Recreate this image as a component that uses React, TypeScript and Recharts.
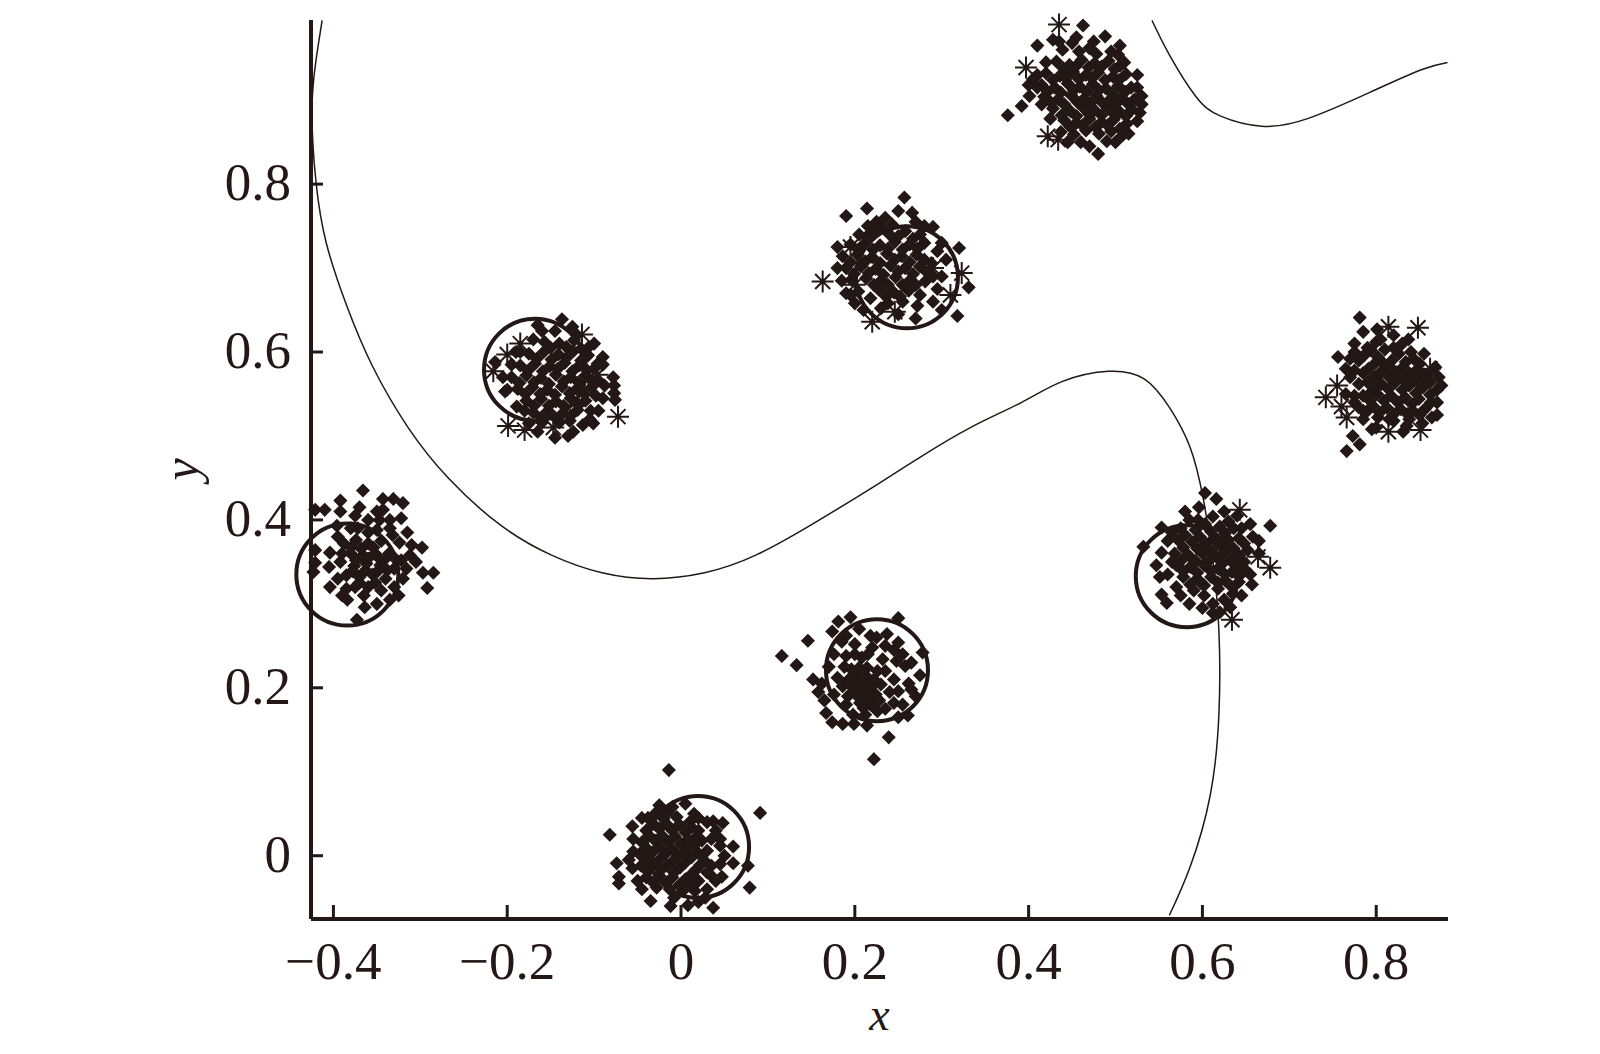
import React from "react";
import { ScatterChart, Scatter, XAxis, YAxis, ReferenceDot } from "recharts";

const INK = "#231815";
const FONT = "'Liberation Serif', 'Times New Roman', serif";

const xTicks = [-0.4, -0.2, 0, 0.2, 0.4, 0.6, 0.8];
const xTickLabels = ["\u22120.4", "\u22120.2", "0", "0.2", "0.4", "0.6", "0.8"];
const yTicks = [0, 0.2, 0.4, 0.6, 0.8];
const yTickLabels = ["0", "0.2", "0.4", "0.6", "0.8"];

type Pair = [number, number];

// decision boundary
const boundaryMain: Pair[] = [
  [-0.413, 0.995], [-0.42, 0.948], [-0.4247, 0.887], [-0.42, 0.802], [-0.408, 0.729], [-0.385, 0.656],
  [-0.355, 0.583], [-0.314, 0.51], [-0.267, 0.449], [-0.208, 0.394], [-0.149, 0.358], [-0.091, 0.337],
  [-0.032, 0.33], [0.027, 0.337], [0.086, 0.358], [0.156, 0.398], [0.227, 0.443], [0.274, 0.474],
  [0.333, 0.51], [0.392, 0.54], [0.439, 0.565], [0.492, 0.577], [0.533, 0.568], [0.562, 0.534],
  [0.586, 0.486], [0.601, 0.425], [0.612, 0.352], [0.619, 0.267], [0.619, 0.169], [0.609, 0.072],
  [0.586, -0.013], [0.562, -0.071],
];
const boundaryCorner: Pair[] = [
  [0.542, 0.995], [0.562, 0.954], [0.592, 0.905], [0.621, 0.881], [0.668, 0.869], [0.721, 0.878],
  [0.792, 0.909], [0.851, 0.936], [0.882, 0.945],
];

// ring centres
const ringX = [-0.168, -0.384, 0.26, 0.582, 0.2255, 0.0196];
const ringY = [0.579, 0.335, 0.689, 0.333, 0.221, 0.0104];

const starPoints: Pair[] = [
  [0.435, 0.99], [0.397, 0.939], [0.422, 0.857], [0.163, 0.684], [0.195, 0.725], [0.323, 0.694],
  [0.22, 0.636], [0.31, 0.668], [0.246, 0.648], [0.2, 0.68], [0.29, 0.7], [-0.0725, 0.523],
  [-0.2, 0.597], [-0.216, 0.577], [-0.199, 0.512], [-0.18, 0.507], [-0.096, 0.573], [-0.147, 0.51],
  [-0.114, 0.621], [-0.185, 0.61], [0.678, 0.343], [0.643, 0.412], [0.634, 0.281], [0.664, 0.356],
  [0.742, 0.546], [0.814, 0.63], [0.848, 0.629], [0.766, 0.522], [0.814, 0.505], [0.851, 0.507],
  [0.862, 0.58], [0.755, 0.56], [0.434, 0.853], [0.76, 0.535],
];

const clusterTop: Pair[] = [
  [0.4626, 0.989], [0.376, 0.882], [0.392, 0.893], [0.48, 0.836], [0.49, 0.851], [0.41, 0.965], [0.488, 0.976],
  [0.503, 0.954], [0.428, 0.972], [0.45, 0.968], [0.47, 0.962], [0.4, 0.918], [0.401, 0.905], [0.525, 0.93], [0.528, 0.885],
  [0.432, 0.946], [0.447, 0.942], [0.461, 0.948], [0.476, 0.944], [0.492, 0.947], [0.505, 0.941],
  [0.42, 0.932], [0.436, 0.929], [0.451, 0.934], [0.466, 0.93], [0.48, 0.933], [0.497, 0.928], [0.512, 0.931],
  [0.415, 0.918], [0.43, 0.915], [0.445, 0.92], [0.459, 0.916], [0.474, 0.919], [0.489, 0.914], [0.503, 0.917], [0.518, 0.915],
  [0.418, 0.904], [0.434, 0.901], [0.449, 0.906], [0.464, 0.902], [0.478, 0.905], [0.493, 0.9], [0.507, 0.903], [0.522, 0.901],
  [0.428, 0.89], [0.448, 0.887], [0.462, 0.892], [0.476, 0.888], [0.491, 0.891], [0.505, 0.886], [0.519, 0.889],
  [0.441, 0.876], [0.455, 0.873], [0.47, 0.878], [0.484, 0.874], [0.498, 0.877], [0.513, 0.872],
  [0.437, 0.862], [0.452, 0.859], [0.466, 0.864], [0.481, 0.86], [0.495, 0.863], [0.508, 0.858],
];
const coreTop: Pair[] = [
  [0.44, 0.938], [0.454, 0.94], [0.469, 0.939], [0.484, 0.94], [0.499, 0.937],
  [0.428, 0.924], [0.443, 0.926], [0.458, 0.925], [0.473, 0.926], [0.488, 0.924], [0.504, 0.924],
  [0.422, 0.91], [0.437, 0.909], [0.452, 0.912], [0.467, 0.91], [0.481, 0.912], [0.496, 0.908], [0.511, 0.91],
  [0.426, 0.897], [0.441, 0.895], [0.456, 0.898], [0.471, 0.896], [0.485, 0.897], [0.5, 0.895], [0.514, 0.896],
  [0.438, 0.882], [0.455, 0.881], [0.469, 0.884], [0.484, 0.882], [0.498, 0.884], [0.512, 0.881],
  [0.448, 0.868], [0.462, 0.87], [0.477, 0.868], [0.491, 0.87], [0.505, 0.866],
];
const edgeTop: Pair[] = [
  [0.439, 0.96], [0.458, 0.958], [0.478, 0.955], [0.495, 0.958], [0.51, 0.945], [0.42, 0.945], [0.41, 0.93], [0.405, 0.925],
  [0.525, 0.915], [0.53, 0.905], [0.53, 0.895], [0.525, 0.875], [0.515, 0.86], [0.5, 0.85], [0.46, 0.85], [0.445, 0.85],
  [0.47, 0.845], [0.41, 0.915], [0.415, 0.895], [0.425, 0.878], [0.435, 0.97], [0.455, 0.975], [0.475, 0.97], [0.505, 0.965],
];

const clusterMid: Pair[] = [
  [0.19, 0.762], [0.214, 0.771], [0.257, 0.784], [0.32, 0.724], [0.331, 0.677], [0.318, 0.643], [0.266, 0.766], [0.29, 0.749],
  [0.225, 0.755], [0.243, 0.752], [0.205, 0.74], [0.222, 0.742], [0.24, 0.74], [0.258, 0.744], [0.275, 0.74],
  [0.195, 0.728], [0.212, 0.73], [0.229, 0.727], [0.246, 0.731], [0.263, 0.728], [0.28, 0.73], [0.295, 0.72],
  [0.186, 0.714], [0.203, 0.716], [0.22, 0.713], [0.237, 0.717], [0.254, 0.714], [0.271, 0.716], [0.288, 0.706],
  [0.19, 0.7], [0.207, 0.702], [0.224, 0.699], [0.241, 0.703], [0.258, 0.7], [0.275, 0.702], [0.29, 0.69],
  [0.196, 0.686], [0.213, 0.688], [0.23, 0.685], [0.247, 0.689], [0.264, 0.686], [0.281, 0.684],
  [0.204, 0.672], [0.228, 0.674], [0.245, 0.671], [0.262, 0.673], [0.275, 0.668],
  [0.2, 0.658], [0.218, 0.664], [0.238, 0.658], [0.255, 0.66], [0.272, 0.655], [0.195, 0.668], [0.23, 0.652], [0.29, 0.66],
];
const coreMid: Pair[] = [
  [0.231, 0.748], [0.25, 0.738], [0.267, 0.735], [0.213, 0.737], [0.204, 0.722], [0.221, 0.722], [0.238, 0.723], [0.255, 0.722], [0.272, 0.723],
  [0.195, 0.707], [0.212, 0.708], [0.229, 0.706], [0.246, 0.71], [0.263, 0.707], [0.28, 0.71],
  [0.199, 0.693], [0.216, 0.694], [0.233, 0.692], [0.25, 0.696], [0.267, 0.693], [0.283, 0.695],
  [0.222, 0.68], [0.238, 0.68], [0.255, 0.68], [0.27, 0.68], [0.236, 0.666], [0.252, 0.666],
];
const edgeMid: Pair[] = [
  [0.215, 0.75], [0.235, 0.76], [0.25, 0.768], [0.27, 0.755], [0.28, 0.75], [0.3, 0.73], [0.305, 0.71], [0.3, 0.69], [0.295, 0.675],
  [0.18, 0.725], [0.18, 0.7], [0.185, 0.685], [0.19, 0.67], [0.21, 0.65], [0.25, 0.645], [0.27, 0.64], [0.3, 0.65],
];

const clusterLeft: Pair[] = [
  [-0.078, 0.57], [-0.077, 0.56], [-0.077, 0.551], [-0.076, 0.543], [-0.145, 0.498], [-0.124, 0.505], [-0.101, 0.515], [-0.113, 0.513],
  [-0.137, 0.639], [-0.09, 0.594], [-0.2025, 0.553], [-0.189, 0.535], [-0.214, 0.588], [-0.165, 0.632], [-0.145, 0.625], [-0.125, 0.63],
  [-0.157, 0.612], [-0.14, 0.61], [-0.123, 0.614], [-0.106, 0.606],
  [-0.175, 0.598], [-0.158, 0.6], [-0.141, 0.597], [-0.124, 0.601], [-0.107, 0.596], [-0.096, 0.586],
  [-0.185, 0.584], [-0.168, 0.586], [-0.151, 0.583], [-0.134, 0.587], [-0.117, 0.584], [-0.1, 0.58],
  [-0.195, 0.57], [-0.178, 0.572], [-0.161, 0.569], [-0.144, 0.573], [-0.127, 0.57], [-0.11, 0.572], [-0.095, 0.566],
  [-0.188, 0.556], [-0.171, 0.558], [-0.154, 0.555], [-0.137, 0.559], [-0.12, 0.556], [-0.103, 0.558],
  [-0.178, 0.542], [-0.161, 0.544], [-0.144, 0.541], [-0.127, 0.545], [-0.11, 0.542], [-0.098, 0.548],
  [-0.17, 0.528], [-0.153, 0.53], [-0.136, 0.527], [-0.119, 0.531], [-0.104, 0.53],
  [-0.16, 0.516], [-0.14, 0.516], [-0.128, 0.518],
];
const coreLeft: Pair[] = [
  [-0.15, 0.605], [-0.132, 0.606], [-0.115, 0.604], [-0.166, 0.592], [-0.149, 0.591], [-0.132, 0.593], [-0.115, 0.59],
  [-0.176, 0.578], [-0.159, 0.577], [-0.142, 0.58], [-0.125, 0.577], [-0.108, 0.578],
  [-0.186, 0.563], [-0.169, 0.564], [-0.152, 0.562], [-0.135, 0.565], [-0.118, 0.564], [-0.102, 0.565],
  [-0.179, 0.55], [-0.162, 0.55], [-0.145, 0.549], [-0.128, 0.551], [-0.111, 0.55],
  [-0.169, 0.536], [-0.152, 0.536], [-0.135, 0.536], [-0.118, 0.537], [-0.145, 0.522], [-0.161, 0.522], [-0.127, 0.524],
];
const edgeLeft: Pair[] = [
  [-0.19, 0.6], [-0.195, 0.585], [-0.205, 0.57], [-0.2, 0.555], [-0.185, 0.6], [-0.17, 0.615], [-0.16, 0.625], [-0.12, 0.62],
  [-0.1, 0.61], [-0.09, 0.585], [-0.088, 0.56], [-0.09, 0.545], [-0.095, 0.53], [-0.18, 0.53], [-0.175, 0.515], [-0.165, 0.505],
  [-0.13, 0.5], [-0.105, 0.52],
];

const clusterFarLeft: Pair[] = [
  [-0.366, 0.435], [-0.392, 0.423], [-0.343, 0.425], [-0.331, 0.425], [-0.32, 0.42], [-0.343, 0.412], [-0.421, 0.412], [-0.41, 0.412],
  [-0.292, 0.319], [-0.285, 0.337], [-0.297, 0.337], [-0.298, 0.367], [-0.404, 0.361], [-0.405, 0.344], [-0.404, 0.32], [-0.421, 0.364],
  [-0.421, 0.349], [-0.423, 0.338], [-0.373, 0.281], [-0.364, 0.296], [-0.384, 0.305], [-0.392, 0.41], [-0.375, 0.405], [-0.36, 0.4],
  [-0.335, 0.4], [-0.322, 0.402], [-0.315, 0.385], [-0.324, 0.373], [-0.332, 0.382], [-0.396, 0.393], [-0.38, 0.39], [-0.35, 0.388],
  [-0.345, 0.375], [-0.388, 0.372], [-0.374, 0.376], [-0.36, 0.372], [-0.312, 0.358], [-0.305, 0.35], [-0.322, 0.352], [-0.336, 0.36],
  [-0.38, 0.36], [-0.366, 0.358], [-0.352, 0.36], [-0.392, 0.35], [-0.376, 0.345], [-0.362, 0.348], [-0.346, 0.346], [-0.33, 0.342],
  [-0.316, 0.342], [-0.385, 0.334], [-0.37, 0.332], [-0.355, 0.335], [-0.34, 0.33], [-0.33, 0.32], [-0.345, 0.316], [-0.375, 0.32],
  [-0.36, 0.32], [-0.385, 0.318], [-0.335, 0.305],
];
const coreFarLeft: Pair[] = [
  [-0.372, 0.39], [-0.36, 0.385], [-0.347, 0.4], [-0.38, 0.367], [-0.368, 0.366], [-0.354, 0.367], [-0.342, 0.352],
  [-0.374, 0.352], [-0.36, 0.354], [-0.348, 0.355], [-0.378, 0.339], [-0.363, 0.34], [-0.349, 0.339], [-0.33, 0.355],
  [-0.37, 0.325], [-0.352, 0.325], [-0.338, 0.34], [-0.395, 0.38], [-0.39, 0.36], [-0.395, 0.33], [-0.39, 0.31],
  [-0.35, 0.41], [-0.37, 0.415], [-0.335, 0.39], [-0.31, 0.37], [-0.32, 0.33], [-0.325, 0.31], [-0.35, 0.3], [-0.365, 0.31],
];

const clusterRightMid: Pair[] = [
  [0.678, 0.393], [0.616, 0.425], [0.603, 0.432], [0.553, 0.361], [0.547, 0.346], [0.551, 0.332], [0.553, 0.311], [0.559, 0.301],
  [0.532, 0.368], [0.553, 0.391], [0.612, 0.289], [0.632, 0.296], [0.657, 0.323], [0.596, 0.415], [0.585, 0.4], [0.575, 0.39],
  [0.612, 0.404], [0.63, 0.398], [0.645, 0.39], [0.592, 0.388], [0.61, 0.386], [0.626, 0.384], [0.642, 0.378], [0.658, 0.38],
  [0.572, 0.376], [0.588, 0.374], [0.604, 0.372], [0.62, 0.37], [0.636, 0.366], [0.652, 0.364],
  [0.568, 0.36], [0.584, 0.358], [0.6, 0.36], [0.616, 0.356], [0.632, 0.352], [0.648, 0.35],
  [0.57, 0.346], [0.586, 0.344], [0.602, 0.346], [0.618, 0.342], [0.634, 0.338], [0.65, 0.34],
  [0.578, 0.332], [0.594, 0.33], [0.61, 0.332], [0.626, 0.328], [0.642, 0.326],
  [0.59, 0.316], [0.602, 0.31], [0.618, 0.318], [0.635, 0.312], [0.612, 0.3], [0.625, 0.305],
];
const coreRightMid: Pair[] = [
  [0.603, 0.395], [0.62, 0.392], [0.636, 0.39], [0.58, 0.382], [0.597, 0.38], [0.613, 0.378], [0.63, 0.376], [0.648, 0.372],
  [0.578, 0.367], [0.594, 0.366], [0.61, 0.364], [0.626, 0.362], [0.642, 0.358], [0.576, 0.352], [0.592, 0.351], [0.608, 0.352],
  [0.624, 0.349], [0.64, 0.345], [0.578, 0.339], [0.594, 0.337], [0.61, 0.339], [0.626, 0.335], [0.642, 0.333],
  [0.586, 0.323], [0.602, 0.322], [0.618, 0.325], [0.634, 0.32], [0.598, 0.325],
];
const edgeRightMid: Pair[] = [
  [0.56, 0.375], [0.565, 0.35], [0.56, 0.335], [0.57, 0.32], [0.575, 0.31], [0.585, 0.3], [0.6, 0.295], [0.62, 0.29], [0.645, 0.31],
  [0.655, 0.335], [0.665, 0.36], [0.665, 0.375], [0.655, 0.395], [0.64, 0.405], [0.625, 0.41], [0.58, 0.41], [0.595, 0.4], [0.565, 0.385],
];

const clusterFarRight: Pair[] = [
  [0.781, 0.641], [0.785, 0.624], [0.766, 0.482], [0.781, 0.49], [0.773, 0.5], [0.756, 0.594], [0.795, 0.508], [0.831, 0.505],
  [0.837, 0.615], [0.801, 0.627], [0.765, 0.55], [0.775, 0.548], [0.775, 0.61], [0.8, 0.612], [0.82, 0.605], [0.84, 0.6], [0.855, 0.598],
  [0.77, 0.592], [0.786, 0.596], [0.802, 0.594], [0.818, 0.59], [0.834, 0.588], [0.85, 0.586], [0.868, 0.582],
  [0.775, 0.578], [0.791, 0.58], [0.807, 0.578], [0.823, 0.576], [0.839, 0.574], [0.855, 0.572], [0.872, 0.57],
  [0.79, 0.564], [0.806, 0.562], [0.822, 0.564], [0.838, 0.56], [0.854, 0.558], [0.87, 0.555],
  [0.785, 0.548], [0.801, 0.55], [0.817, 0.548], [0.833, 0.546], [0.849, 0.544], [0.863, 0.54],
  [0.78, 0.534], [0.796, 0.536], [0.812, 0.534], [0.828, 0.532], [0.842, 0.53], [0.87, 0.525],
  [0.785, 0.52], [0.802, 0.522], [0.82, 0.518], [0.838, 0.52], [0.853, 0.515], [0.864, 0.522],
];
const coreFarRight: Pair[] = [
  [0.794, 0.602], [0.81, 0.603], [0.826, 0.598], [0.843, 0.592], [0.799, 0.587], [0.815, 0.583], [0.831, 0.582], [0.847, 0.579], [0.862, 0.576],
  [0.798, 0.571], [0.815, 0.57], [0.83, 0.568], [0.846, 0.566], [0.862, 0.564], [0.798, 0.556], [0.814, 0.556], [0.83, 0.555], [0.846, 0.551], [0.862, 0.549],
  [0.793, 0.542], [0.809, 0.542], [0.825, 0.54], [0.841, 0.538], [0.856, 0.532], [0.804, 0.528], [0.82, 0.526], [0.836, 0.526],
];
const edgeFarRight: Pair[] = [
  [0.775, 0.6], [0.765, 0.58], [0.77, 0.57], [0.78, 0.562], [0.775, 0.54], [0.79, 0.53], [0.8, 0.51], [0.815, 0.52], [0.78, 0.59], [0.79, 0.605],
  [0.805, 0.615], [0.82, 0.62], [0.83, 0.61], [0.785, 0.575], [0.792, 0.55], [0.8, 0.57], [0.808, 0.587], [0.785, 0.53], [0.835, 0.512],
  [0.85, 0.525], [0.87, 0.54], [0.875, 0.56],
];

const clusterLowMid: Pair[] = [
  [0.116, 0.238], [0.133, 0.227], [0.146, 0.256], [0.174, 0.267], [0.181, 0.279], [0.195, 0.284], [0.237, 0.264], [0.25, 0.254],
  [0.275, 0.215], [0.222, 0.115], [0.239, 0.141], [0.167, 0.17], [0.174, 0.159], [0.186, 0.157], [0.199, 0.157], [0.214, 0.155],
  [0.261, 0.167], [0.25, 0.283], [0.278, 0.242], [0.205, 0.27], [0.218, 0.262], [0.185, 0.255], [0.2, 0.252], [0.22, 0.248],
  [0.176, 0.24], [0.19, 0.238], [0.208, 0.236], [0.232, 0.234], [0.248, 0.232], [0.17, 0.225], [0.196, 0.222], [0.214, 0.224], [0.226, 0.22],
  [0.258, 0.226], [0.152, 0.21], [0.162, 0.205], [0.18, 0.212], [0.193, 0.21], [0.205, 0.206], [0.218, 0.208], [0.23, 0.204],
  [0.262, 0.205], [0.158, 0.195], [0.176, 0.192], [0.2, 0.196], [0.212, 0.194], [0.224, 0.192], [0.25, 0.196], [0.265, 0.198],
  [0.165, 0.185], [0.19, 0.18], [0.206, 0.182], [0.218, 0.18], [0.245, 0.182], [0.198, 0.168], [0.212, 0.168], [0.226, 0.172],
];
const coreLowMid: Pair[] = [
  [0.2, 0.215], [0.212, 0.215], [0.222, 0.21], [0.186, 0.202], [0.198, 0.2], [0.21, 0.201], [0.218, 0.2], [0.192, 0.19], [0.204, 0.189],
  [0.216, 0.187], [0.228, 0.185], [0.21, 0.176], [0.188, 0.225], [0.205, 0.224], [0.235, 0.25], [0.245, 0.245], [0.255, 0.24], [0.235, 0.22],
  [0.245, 0.21], [0.24, 0.195], [0.235, 0.175], [0.25, 0.165], [0.2, 0.24], [0.215, 0.24], [0.19, 0.262], [0.225, 0.26], [0.265, 0.23],
  [0.27, 0.19], [0.255, 0.18],
];

const clusterBottom: Pair[] = [
  [-0.014, 0.102], [0.091, 0.051], [-0.082, 0.025], [-0.074, -0.009], [-0.0715, -0.025], [-0.0715, -0.033], [-0.056, -0.015], [0.079, -0.038],
  [-0.035, -0.054], [-0.056, 0.035], [-0.045, 0.045], [0.048, 0.039], [0.037, 0.041], [0.06, 0.011], [0.06, -0.009], [0.077, -0.012],
  [0.047, -0.025], [0.036, -0.025], [0.008, -0.059], [0.037, -0.062], [0.028, -0.05], [-0.012, -0.06],
  [-0.025, 0.06], [-0.01, 0.058], [0.005, 0.062], [0.015, 0.05], [-0.038, 0.045], [-0.02, 0.044], [-0.005, 0.046], [0.01, 0.04],
  [-0.04, 0.03], [-0.025, 0.032], [-0.01, 0.03], [0.005, 0.028], [0.02, 0.03], [0.035, 0.02],
  [-0.045, 0.016], [-0.03, 0.018], [-0.015, 0.016], [0, 0.014], [0.015, 0.012], [0.03, 0.006], [0.045, 0.012],
  [-0.048, 0.002], [-0.033, 0.004], [-0.018, 0.002], [-0.003, 0], [0.012, -0.002], [0.027, -0.006],
  [-0.046, -0.012], [-0.031, -0.01], [-0.016, -0.012], [-0.001, -0.014], [0.018, -0.016], [0.035, -0.012],
  [-0.04, -0.026], [-0.025, -0.024], [-0.01, -0.026], [0.005, -0.028], [0.02, -0.03],
  [-0.028, -0.038], [-0.013, -0.04], [0.002, -0.042], [0.016, -0.042], [-0.008, -0.05],
];
const coreBottom: Pair[] = [
  [-0.032, 0.038], [-0.017, 0.038], [-0.002, 0.037], [0.012, 0.034], [-0.037, 0.024], [-0.022, 0.024], [-0.007, 0.023], [0.008, 0.02], [0.024, 0.018],
  [-0.04, 0.009], [-0.025, 0.01], [-0.01, 0.008], [0.005, 0.006], [0.02, 0.003], [-0.04, -0.005], [-0.024, -0.004], [-0.009, -0.006], [0.005, -0.008], [0.022, -0.011],
  [-0.038, -0.019], [-0.023, -0.017], [-0.008, -0.02], [0.012, -0.022], [-0.032, -0.032], [-0.017, -0.032], [-0.002, -0.035], [0.012, -0.036],
  [0.02, 0.045], [0.03, 0.04], [0.04, 0.03], [0.045, 0.02], [0.05, 0], [0.045, -0.01], [0.04, -0.03], [0.03, -0.04], [0.02, -0.055],
  [-0.055, 0.02], [-0.055, 0.005], [-0.06, -0.005], [-0.05, -0.03], [-0.045, -0.04], [-0.03, 0.05], [-0.015, 0.052], [0.015, 0.02], [0.03, -0.02],
];

const diamondGroups = [
  clusterTop, coreTop, edgeTop, clusterMid, coreMid, edgeMid, clusterLeft, coreLeft, edgeLeft, clusterFarLeft, coreFarLeft,
  clusterRightMid, coreRightMid, edgeRightMid, clusterFarRight, coreFarRight, edgeFarRight, clusterLowMid, coreLowMid, clusterBottom, coreBottom,
];

const toPoints = (pairs: Pair[]) => pairs.map(([x, y]) => ({ x, y }));

function Diamond({ cx, cy }: any) {
  const r = 6;
  const w = 3;
  return (
    <path
      d={`M${cx} ${cy - r}L${cx + w} ${cy - w}L${cx + r} ${cy}L${cx + w} ${cy + w}L${cx} ${cy + r}L${cx - w} ${cy + w}L${cx - r} ${cy}L${cx - w} ${cy - w}Z`}
      fill={INK}
      stroke={INK}
      strokeWidth={1.5}
    />
  );
}

function Star({ cx, cy }: any) {
  const r = 11;
  const d = 7.5;
  return (
    <path
      d={`M${cx - r} ${cy}H${cx + r}M${cx} ${cy - r}V${cy + r}M${cx - d} ${cy - d}L${cx + d} ${cy + d}M${cx - d} ${cy + d}L${cx + d} ${cy - d}`}
      stroke={INK}
      strokeWidth={2}
      fill="none"
    />
  );
}

const NoDot = () => null;

function XTick({ x, y, payload }: any) {
  const label = xTickLabels[xTicks.indexOf(payload.value)];
  return (
    <g>
      <line x1={x} x2={x} y1={y} y2={y - 14} stroke={INK} strokeWidth={3} />
      <text x={x} y={y + 60} textAnchor="middle" fontFamily={FONT} fontSize={53} fill={INK}>
        {label}
      </text>
    </g>
  );
}

function YTick({ x, y, payload }: any) {
  const label = yTickLabels[yTicks.indexOf(payload.value)];
  return (
    <g>
      <line x1={x} x2={x + 12} y1={y} y2={y} stroke={INK} strokeWidth={3} />
      <text x={x - 20} y={y + 16} textAnchor="end" fontFamily={FONT} fontSize={53} fill={INK}>
        {label}
      </text>
    </g>
  );
}

export default function App() {
  return (
    <div style={{ position: "absolute", left: 0, top: 0, width: 1600, height: 1054, background: "#fff" }}>
      <ScatterChart width={1600} height={1054} margin={{ top: 20, right: 152, left: 0, bottom: 0 }}>
        <XAxis
          type="number"
          dataKey="x"
          domain={[-0.4258, 0.8826]}
          ticks={xTicks}
          interval={0}
          height={135}
          tickSize={0}
          tickMargin={0}
          tick={<XTick />}
          axisLine={{ stroke: INK, strokeWidth: 4 }}
          tickLine={false}
          label={{
            value: "x",
            position: "insideBottom",
            offset: 24,
            style: { fontFamily: FONT, fontStyle: "italic", fontSize: 46, fill: INK },
          }}
        />
        <YAxis
          type="number"
          dataKey="y"
          domain={[-0.0754, 0.9955]}
          ticks={yTicks}
          interval={0}
          width={311}
          tickSize={0}
          tickMargin={0}
          tick={<YTick />}
          axisLine={{ stroke: INK, strokeWidth: 4 }}
          tickLine={false}
          label={{
            value: "y",
            position: "insideLeft",
            angle: -90,
            offset: 180,
            style: { fontFamily: FONT, fontStyle: "italic", fontSize: 50, fill: INK, textAnchor: "middle" },
          }}
        />
        <Scatter
          data={toPoints(boundaryMain)}
          line={{ stroke: INK, strokeWidth: 1.5 }}
          lineJointType="natural"
          shape={NoDot}
          isAnimationActive={false}
        />
        <Scatter
          data={toPoints(boundaryCorner)}
          line={{ stroke: INK, strokeWidth: 1.5 }}
          lineJointType="natural"
          shape={NoDot}
          isAnimationActive={false}
        />
        {diamondGroups.map((group, i) => (
          <Scatter key={i} data={toPoints(group)} shape={<Diamond />} isAnimationActive={false} />
        ))}
        <Scatter data={toPoints(starPoints)} shape={<Star />} isAnimationActive={false} />
        {ringX.map((cx, i) => (
          <ReferenceDot
            key={i}
            x={cx}
            y={ringY[i]}
            r={51}
            fill="none"
            stroke={INK}
            strokeWidth={4}
            ifOverflow="visible"
          />
        ))}
      </ScatterChart>
    </div>
  );
}
